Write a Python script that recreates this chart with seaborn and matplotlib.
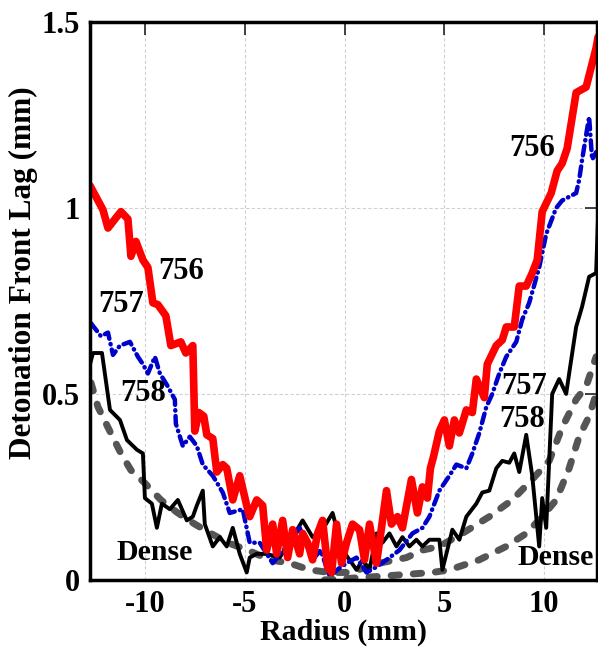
import matplotlib
matplotlib.use("Agg")
import matplotlib.pyplot as plt
import seaborn as sns
import pandas as pd

# ---- data ----
x756 = [-12.75, -12.1, -11.85, -11.5, -11.2, -10.85, -10.7, -10.45, -10.1, -9.85, -9.6, -9.35, -8.95,
        -8.7, -8.2, -7.95, -7.6, -7.5, -7.3, -7.05, -6.9, -6.6, -6.4, -6.1, -5.9, -5.6, -5.25, -4.9,
        -4.75, -4.4, -4.1, -3.9, -3.6, -3.4, -3.1, -2.85, -2.6, -2.25, -2.1, -1.85, -1.6, -1.35, -1.1,
        -0.85, -0.65, -0.4, -0.15, 0.1, 0.4, 0.75, 1.0, 1.25, 1.6, 1.85, 2.1, 2.35, 2.65, 2.9, 3.35,
        3.65, 3.9, 4.15, 4.3, 4.45, 4.75, 5.0, 5.25, 5.5, 5.75, 6.1, 6.4, 6.6, 7.0, 7.15, 7.6, 7.9,
        8.1, 8.5, 8.75, 9.1, 9.4, 9.65, 9.9, 10.35, 10.65, 10.9, 11.15, 11.6, 12.1, 12.6, 12.7]
y756 = [1.06, 0.995, 0.946, 0.97, 0.99, 0.97, 0.87, 0.91, 0.86, 0.84, 0.745, 0.74, 0.71,
        0.63, 0.64, 0.61, 0.63, 0.40, 0.45, 0.44, 0.39, 0.38, 0.29, 0.31, 0.30, 0.215, 0.28, 0.20,
        0.17, 0.215, 0.20, 0.08, 0.15, 0.07, 0.16, 0.06, 0.135, 0.07, 0.125, 0.10, 0.054, 0.125, 0.16,
        0.035, 0.02, 0.15, 0.045, 0.10, 0.15, 0.135, 0.054, 0.15, 0.045, 0.14, 0.24, 0.15, 0.17, 0.14, 0.27,
        0.18, 0.25, 0.22, 0.30, 0.33, 0.40, 0.43, 0.36, 0.43, 0.395, 0.457, 0.45, 0.54, 0.49, 0.58, 0.63, 0.645,
        0.68, 0.68, 0.79, 0.79, 0.825, 0.86, 0.99, 1.04, 1.10, 1.12, 1.16, 1.31, 1.325, 1.43, 1.46]

x757 = [-12.7, -12.2, -11.85, -11.6, -11.25, -10.75, -10.35, -10.1, -9.85, -9.5, -9.25, -8.85, -8.5,
        -8.45, -8.1, -7.75, -7.4, -7.1, -6.6, -6.1, -5.75, -5.1, -4.75, -4.25, -3.6, -2.9, -2.25, -1.6,
        -1.2, -0.75, -0.3, 0.1, 0.6, 1.1, 1.6, 2.1, 2.75, 3.4, 3.9, 4.25, 4.75, 5.25, 5.6, 6.1, 6.4,
        6.75, 7.1, 7.4, 7.75, 8.1, 8.6, 8.9, 9.25, 9.75, 10.1, 10.6, 10.9, 11.6, 11.75, 11.9, 12.25,
        12.4, 12.6]
y757 = [0.69, 0.655, 0.665, 0.605, 0.63, 0.64, 0.60, 0.58, 0.555, 0.60, 0.555, 0.52, 0.485,
        0.42, 0.36, 0.385, 0.36, 0.31, 0.28, 0.235, 0.18, 0.19, 0.10, 0.10, 0.045, 0.09, 0.14, 0.054,
        0.08, 0.01, 0.03, 0.045, 0.06, 0.02, 0.035, 0.054, 0.08, 0.125, 0.14, 0.17, 0.24, 0.28, 0.31, 0.30, 0.34,
        0.395, 0.465, 0.50, 0.555, 0.60, 0.64, 0.70, 0.745, 0.84, 0.93, 1.0, 1.02, 1.04, 1.075, 1.13, 1.245,
        1.13, 1.15]

x758 = [-12.75, -12.6, -12.15, -11.75, -11.25, -10.9, -10.4, -10.1, -10.0, -9.65, -9.4, -9.15, -8.75,
        -8.35, -7.9, -7.6, -7.4, -7.1, -7.0, -6.6, -6.25, -5.9, -5.6, -5.25, -4.9, -4.75, -4.4, -3.9,
        -3.25, -2.6, -2.1, -1.6, -1.1, -0.6, -0.1, 0.25, 0.6, 0.9, 1.25, 1.6, 1.9, 2.25, 2.6, 2.9, 3.25,
        3.6, 3.9, 4.25, 4.75, 4.9, 5.4, 5.75, 6.1, 6.6, 6.9, 7.25, 7.6, 7.9, 8.25, 8.5, 8.75, 9.1, 9.4,
        9.75, 9.9, 10.1, 10.4, 10.75, 11.1, 11.25, 11.6, 11.9, 12.25, 12.6, 12.7]
y758 = [0.58, 0.61, 0.61, 0.457, 0.43, 0.376, 0.35, 0.34, 0.22, 0.205, 0.14, 0.205, 0.19,
        0.215, 0.16, 0.17, 0.20, 0.24, 0.15, 0.09, 0.115, 0.09, 0.14, 0.07, 0.02, 0.06, 0.07, 0.07,
        0.06, 0.115, 0.16, 0.115, 0.135, 0.18, 0.08, 0.054, 0.027, 0.054, 0.027, 0.125, 0.10, 0.125, 0.09, 0.115, 0.09,
        0.108, 0.09, 0.108, 0.108, 0.027, 0.135, 0.108, 0.17, 0.205, 0.235, 0.24, 0.30, 0.32, 0.315, 0.34, 0.29, 0.39, 0.28,
        0.09, 0.22, 0.14, 0.50, 0.54, 0.50, 0.555, 0.68, 0.735, 0.815, 0.825, 0.98]

xdenseA = [-12.7, -12.35, -11.85, -11.2, -10.7, -10.0, -9.2, -8.35, -7.5, -6.7, -5.85, -4.85, -3.75,
           -2.75, -1.75, -0.75, 0.25, 1.75, 3.1, 3.9, 4.75, 5.9, 7.25, 8.4, 9.4, 10.25, 10.9, 11.6,
           12.1, 12.6]
ydenseA = [0.53, 0.465, 0.41, 0.34, 0.295, 0.26, 0.215, 0.18, 0.15, 0.125, 0.10, 0.08, 0.054,
           0.045, 0.027, 0.02, 0.02, 0.045, 0.06, 0.08, 0.09, 0.125, 0.17, 0.215, 0.27, 0.32, 0.41, 0.485,
           0.52, 0.60]
xdenseB = [-1.0, 1.9, 4.4, 5.25, 6.75, 8.1, 9.1, 9.9, 10.6, 11.25, 11.75, 12.25, 12.6]
ydenseB = [0.0, 0.01, 0.02, 0.027, 0.054, 0.09, 0.125, 0.17, 0.215, 0.30, 0.385, 0.44, 0.50]

xticks = [-10, -5, 0, 5, 10]
yticks = [0, 0.5, 1, 1.5]
ytick_labels = ["0", "0.5", "1", "1.5"]

sns.set_theme(style="white")
plt.rcParams['font.family'] = ['Liberation Serif', 'DejaVu Serif']
plt.rcParams['font.weight'] = 'bold'
plt.rcParams['text.color'] = 'black'
plt.rcParams['axes.labelcolor'] = 'black'
plt.rcParams['xtick.color'] = 'black'
plt.rcParams['ytick.color'] = 'black'

fig = plt.figure(figsize=(5.98, 6.56), dpi=100)
ax = fig.add_axes([0.1505, 0.116, 0.848, 0.8505])

grey = "#555555"
sns.lineplot(x=xdenseA, y=ydenseA, ax=ax, color=grey, lw=5, sort=False,
             linestyle=(0, (1.2, 2.0)), dash_capstyle='round')
sns.lineplot(x=xdenseB, y=ydenseB, ax=ax, color=grey, lw=5, sort=False,
             linestyle=(0, (1.2, 2.0)), dash_capstyle='round')
sns.lineplot(x=x758, y=y758, ax=ax, color="black", lw=2.8, sort=False)
sns.lineplot(x=x757, y=y757, ax=ax, color="#0000cc", lw=3.2, sort=False,
             linestyle=(0, (2.2, 1.2, 0.1, 1.2)), dash_capstyle='round')
sns.lineplot(x=x756, y=y756, ax=ax, color="#ff0000", lw=5.5, sort=False)

ax.set_xlim(-12.75, 12.65)
ax.set_ylim(0, 1.5)
ax.set_xticks(xticks)
ax.set_xticklabels([str(t) for t in xticks])
ax.set_yticks(yticks)
ax.set_yticklabels(ytick_labels)
ax.grid(True, color="#d0d0d0", linestyle=(0, (3, 2)), lw=0.8)
ax.tick_params(direction='in', length=9, width=1.2, top=True, right=True,
               labelsize=22, pad=7, color='#222222')
for lab in ax.get_xticklabels() + ax.get_yticklabels():
    lab.set_fontweight('bold')
for s in ax.spines.values():
    s.set_linewidth(2.5)
    s.set_color('black')

ax.set_xlabel("Radius (mm)", fontsize=21.5, fontweight='bold', labelpad=0)
ax.set_ylabel("Detonation Front Lag (mm)", fontsize=22.5, fontweight='bold')
ax.yaxis.set_label_coords(-0.103, 0.55)

fs = 22
ax.text(-8.2, 0.83, "756", fontsize=fs, fontweight='bold', ha='center', va='center')
ax.text(-11.2, 0.74, "757", fontsize=fs, fontweight='bold', ha='center', va='center')
ax.text(-10.1, 0.50, "758", fontsize=fs, fontweight='bold', ha='center', va='center')
ax.text(-9.5, 0.075, "Dense", fontsize=21.5, fontweight='bold', ha='center', va='center')
ax.text(9.4, 1.16, "756", fontsize=fs, fontweight='bold', ha='center', va='center')
ax.text(9.0, 0.52, "757", fontsize=fs, fontweight='bold', ha='center', va='center')
ax.text(8.9, 0.43, "758", fontsize=fs, fontweight='bold', ha='center', va='center')
ax.text(10.6, 0.06, "Dense", fontsize=21.5, fontweight='bold', ha='center', va='center')

fig.savefig("out.png", dpi=100)
